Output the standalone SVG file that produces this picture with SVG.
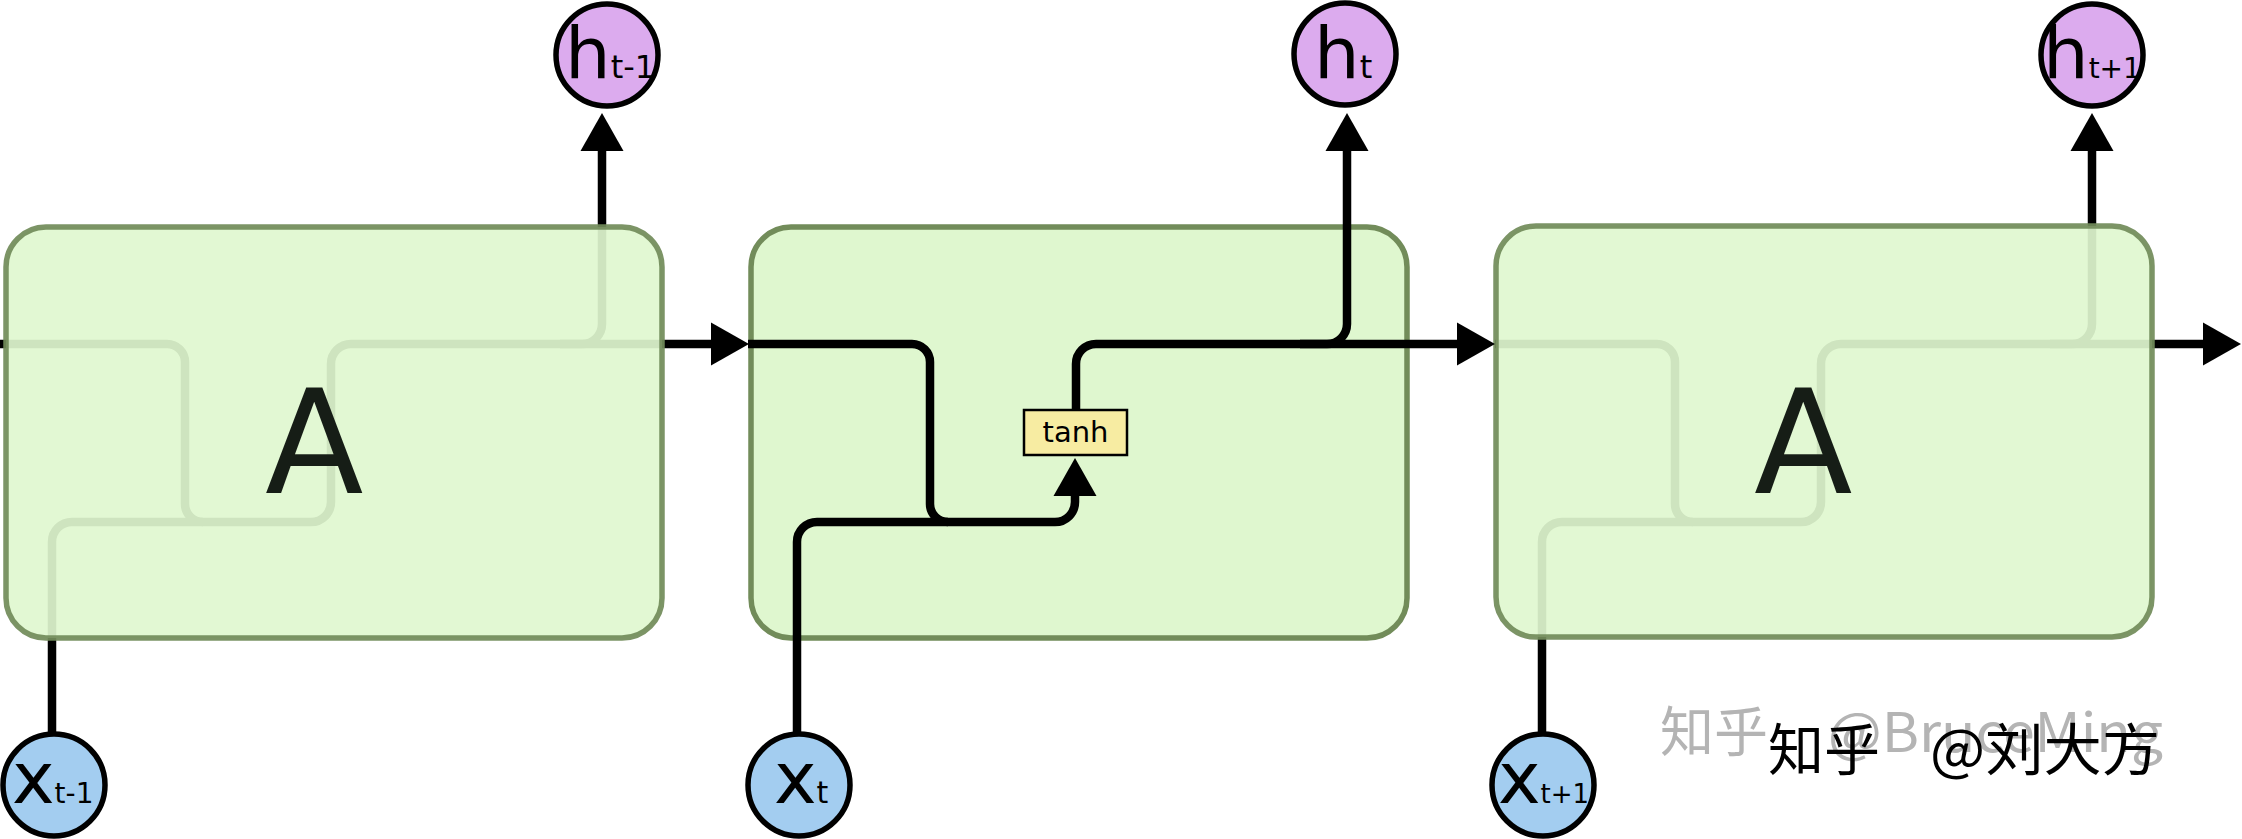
<svg xmlns="http://www.w3.org/2000/svg" width="2242" height="839" viewBox="0 0 2242 839">
  <style>
    .ln{fill:none;stroke:#000;stroke-width:8.5}
    .box{fill:#dff7cf;stroke:#728c5a;stroke-width:5.5}
    .ghost{fill-opacity:0.92;stroke-opacity:0.93}
    .hc{fill:#dcabee;stroke:#000;stroke-width:5.5}
    .xc{fill:#a3cdf0;stroke:#000;stroke-width:5.5}
    .lbl{font-family:"DejaVu Sans","Liberation Sans",sans-serif;fill:#000}
    .big{font-family:"DejaVu Sans","Liberation Sans",sans-serif;font-size:144px;fill:#161d16}
    .wm{font-family:"Noto Sans CJK SC","Noto Sans",sans-serif}
  </style>
  <defs>
    <marker id="ah" markerUnits="userSpaceOnUse" markerWidth="40" markerHeight="44" refX="0" refY="21.5" orient="auto" overflow="visible">
      <path d="M0,0 L38,21.5 L0,43 z" fill="#000"/>
    </marker>
  </defs>
  <rect width="2242" height="839" fill="#fff"/>

  <!-- connectors under the ghost boxes (cell 1 and cell 3) -->
  <g id="connectors-hidden">
    <path class="ln" d="M0 344 H167 A18 18 0 0 1 185 362 V504 A18 18 0 0 0 203 522"/>
    <path class="ln" d="M52 733 V542 A20 20 0 0 1 72 522 H311 A20 20 0 0 0 331 502 V364 A20 20 0 0 1 351 344 H582 A20 20 0 0 0 602 324 V151" marker-end="url(#ah)"/>
    <path class="ln" d="M560 344 H711" marker-end="url(#ah)"/>

    <path class="ln" d="M1495 344 H1657 A18 18 0 0 1 1675 362 V504 A18 18 0 0 0 1693 522"/>
    <path class="ln" d="M1542 733 V542 A20 20 0 0 1 1562 522 H1801 A20 20 0 0 0 1821 502 V364 A20 20 0 0 1 1841 344 H2072 A20 20 0 0 0 2092 324 V151" marker-end="url(#ah)"/>
    <path class="ln" d="M2050 344 H2203" marker-end="url(#ah)"/>
  </g>

  <g id="cell1">
    <rect class="box ghost" x="6" y="227" width="656" height="411" rx="40" ry="40"/>
    <text class="big" x="265" y="493">A</text>
  </g>
  <g id="cell3">
    <rect class="box ghost" x="1496" y="226" width="656" height="411" rx="40" ry="40"/>
    <text class="big" x="1754" y="493">A</text>
  </g>
  <g id="cell2">
    <rect class="box" x="751" y="227" width="656" height="411" rx="40" ry="40"/>
  </g>

  <g id="connectors">
    <path class="ln" d="M748 344 H912 A18 18 0 0 1 930 362 V504 A18 18 0 0 0 948 522"/>
    <path class="ln" d="M797 733 V542 A20 20 0 0 1 817 522 H1055 A20 20 0 0 0 1075 502 V496" marker-end="url(#ah)"/>
    <path class="ln" d="M1076 410 V364 A20 20 0 0 1 1096 344 H1327 A20 20 0 0 0 1347 324 V151" marker-end="url(#ah)"/>
    <path class="ln" d="M1300 344 H1457" marker-end="url(#ah)"/>
  </g>

  <g id="tanh">
    <rect x="1024" y="410" width="103" height="45" fill="#f7eca2" stroke="#000" stroke-width="2.5"/>
    <text class="lbl" x="1075.5" y="442" font-size="29" text-anchor="middle">tanh</text>
  </g>

  <g id="h_tm1">
    <circle class="hc" cx="607" cy="55" r="51"/>
    <text class="lbl" x="565" y="78" font-size="72">h<tspan font-size="32">t-1</tspan></text>
  </g>
  <g id="h_t">
    <circle class="hc" cx="1345" cy="54" r="51"/>
    <text class="lbl" x="1314" y="78" font-size="72">h<tspan font-size="32">t</tspan></text>
  </g>
  <g id="h_tp1">
    <circle class="hc" cx="2092" cy="55" r="51"/>
    <text class="lbl" x="2043" y="78" font-size="72">h<tspan font-size="28">t+1</tspan></text>
  </g>

  <g id="x_tm1">
    <circle class="xc" cx="54" cy="785" r="51"/>
    <text class="lbl" x="12" y="803" font-size="72">x<tspan font-size="28">t-1</tspan></text>
  </g>
  <g id="x_t">
    <circle class="xc" cx="799" cy="785" r="51"/>
    <text class="lbl" x="774" y="803" font-size="72">x<tspan font-size="30">t</tspan></text>
  </g>
  <g id="x_tp1">
    <circle class="xc" cx="1543" cy="785" r="51"/>
    <text class="lbl" x="1498" y="803" font-size="72">x<tspan font-size="26">t+1</tspan></text>
  </g>

  <g id="watermark" class="wm">
    <text x="1660" y="752" font-size="54" fill="#b4b4b4">知乎</text>
    <text x="1828" y="752" font-size="54" fill="#b4b4b4" textLength="335" lengthAdjust="spacingAndGlyphs">@BruceMing</text>
    <text x="1768" y="770" font-size="56" fill="#000">知乎</text>
    <text x="1930" y="770" font-size="56" fill="#000" textLength="230" lengthAdjust="spacingAndGlyphs">@刘大方</text>
  </g>
</svg>
